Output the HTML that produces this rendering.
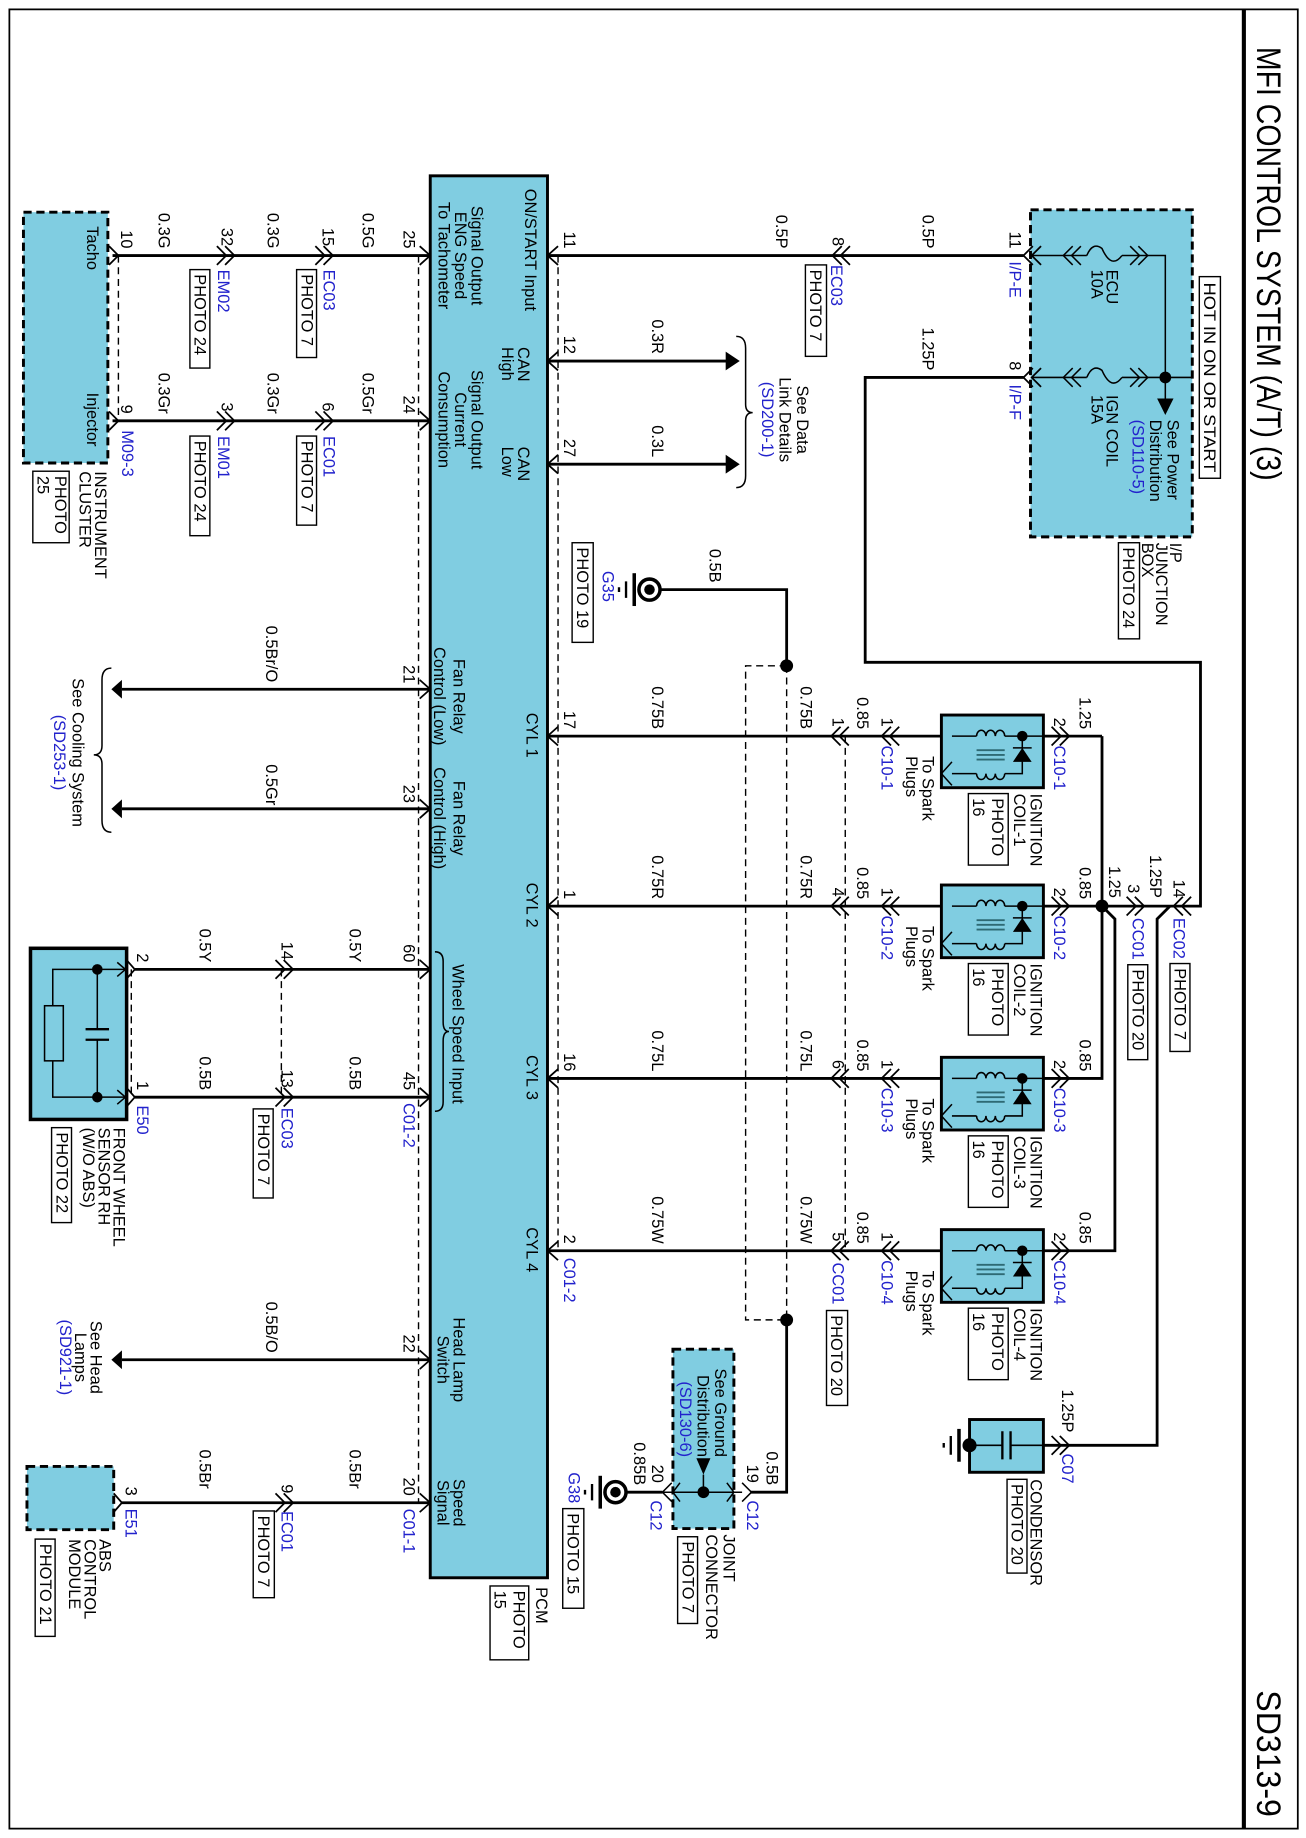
<!DOCTYPE html>
<html><head><meta charset="utf-8"><style>
html,body{margin:0;padding:0;background:#fff;}
svg{display:block;}
text{font-family:"Liberation Sans",Arial,sans-serif;font-size:14px;fill:#000;}
.b{fill:#2222cc;}
.w{stroke:#000;stroke-width:2.4;fill:none;}
.th{stroke:#000;stroke-width:1.3;fill:none;}
.d{stroke:#000;stroke-width:1.2;fill:none;stroke-dasharray:6 4;}
.c{stroke:#000;stroke-width:1.5;fill:none;}
.bx{fill:#80cde1;stroke:#000;}
.pb{fill:#fff;stroke:#000;stroke-width:1.2;}
</style></head><body>
<svg width="1306" height="1838" viewBox="0 0 1114 1568" preserveAspectRatio="none" xmlns="http://www.w3.org/2000/svg">
<rect x="0" y="0" width="1114" height="1568" fill="#fff"/>
<rect x="8" y="8" width="1099" height="1552" fill="none" stroke="#000" stroke-width="1.5"/>
<line x1="1061" y1="8" x2="1061" y2="1560" stroke="#000" stroke-width="3.5"/>
<text transform="translate(1072,40) rotate(90)" style="font-size:29px" textLength="370" lengthAdjust="spacingAndGlyphs">MFI CONTROL SYSTEM (A/T) (3)</text>
<text transform="translate(1072,1442) rotate(90)" style="font-size:29px" textLength="108" lengthAdjust="spacingAndGlyphs">SD313-9</text>

<rect class="bx" x="367" y="150" width="100" height="1196" stroke-width="2.5"/>
<text transform="translate(457,1354) rotate(90)">PCM</text>
<rect class="pb" x="418" y="1353" width="33" height="63"/>
<text transform="translate(438,1357) rotate(90)">PHOTO</text>
<text transform="translate(422,1357) rotate(90)">15</text>

<text transform="translate(448,161) rotate(90)">ON/START Input</text>
<text transform="translate(442,296) rotate(90)">CAN<tspan x="0" dy="14">High</tspan></text>
<text transform="translate(442,381) rotate(90)">CAN<tspan x="0" dy="14">Low</tspan></text>
<text transform="translate(402,218) rotate(90)" text-anchor="middle">Signal Output<tspan x="0" dy="14">ENG Speed</tspan><tspan x="0" dy="14">To Tachometer</tspan></text>
<text transform="translate(402,358) rotate(90)" text-anchor="middle">Signal Output<tspan x="0" dy="14">Current</tspan><tspan x="0" dy="14">Consumption</tspan></text>
<text transform="translate(387,594) rotate(90)" text-anchor="middle">Fan Relay<tspan x="0" dy="17">Control (Low)</tspan></text>
<text transform="translate(387,698) rotate(90)" text-anchor="middle">Fan Relay<tspan x="0" dy="17">Control (High)</tspan></text>
<text transform="translate(386,882) rotate(90)" text-anchor="middle">Wheel Speed Input</text>
<path class="th" d="M371,812 Q378,812 378,820 V872 Q378,880 383,880 Q378,880 378,888 V940 Q378,948 371,948"/>
<text transform="translate(387,1160) rotate(90)" text-anchor="middle">Head Lamp<tspan x="0" dy="14">Switch</tspan></text>
<text transform="translate(387,1282) rotate(90)" text-anchor="middle">Speed<tspan x="0" dy="14">Signal</tspan></text>
<text transform="translate(449,608) rotate(90)">CYL 1</text>
<text transform="translate(449,753) rotate(90)">CYL 2</text>
<text transform="translate(449,900) rotate(90)">CYL 3</text>
<text transform="translate(449,1047) rotate(90)">CYL 4</text>

<path class="c" d="M476,210 L467,218 L476,226 M476,300 L467,308 L476,316 M476,388 L467,396 L476,404 M476,620 L467,628 L476,636 M476,765 L467,773 L476,781 M476,912 L467,920 L476,928 M476,1059 L467,1067 L476,1075"/>
<path class="c" d="M358,210 L367,218 L358,226 M358,351 L367,359 L358,367 M358,580 L367,588 L358,596 M358,682 L367,690 L358,698 M358,819 L367,827 L358,835 M358,928 L367,936 L358,944 M358,1152 L367,1160 L358,1168 M358,1274 L367,1282 L358,1290"/>

<path class="d" d="M476,218 V1067"/>
<path class="d" d="M357,218 V1282"/>
<path class="d" d="M721,628 V1067"/>
<path class="d" d="M671,568 V1126 H636 V568 H671"/>
<path class="d" d="M101,218 V359"/>
<path class="d" d="M112,827 V936"/>
<path class="d" d="M240,827 V936"/>

<rect x="879" y="179" width="138" height="279" fill="#80cde1" stroke="#000" stroke-width="2.5" stroke-dasharray="7 4"/>
<rect class="pb" x="1023" y="236" width="18" height="172"/>
<text transform="translate(1027,241) rotate(90)" textLength="162" lengthAdjust="spacingAndGlyphs">HOT IN ON OR START</text>
<path class="th" d="M880,218 H927 M957,218 H994 V340 M880,322 H927 M957,322 H1017"/>
<path class="th" d="M927,218 Q932,206 940,212 Q948,230 957,218 M927,322 Q932,310 940,316 Q948,334 957,322"/>
<path class="th" d="M915,210 L907,218 L915,226 M922,210 L914,218 L922,226 M964,210 L972,218 L964,226 M971,210 L979,218 L971,226"/>
<path class="th" d="M915,314 L907,322 L915,330 M922,314 L914,322 L922,330 M964,314 L972,322 L964,330 M971,314 L979,322 L971,330"/>
<circle cx="994" cy="322" r="5"/>
<path d="M987,340 L1001,340 L994,354 Z"/>
<text transform="translate(944,230) rotate(90)">ECU<tspan x="0" dy="13">10A</tspan></text>
<text transform="translate(944,337) rotate(90)">IGN COIL<tspan x="0" dy="13">15A</tspan></text>
<text transform="translate(996,358) rotate(90)">See Power<tspan x="0" dy="15">Distribution</tspan><tspan x="0" dy="15" class="b">(SD110-5)</tspan></text>
<text transform="translate(998,463) rotate(90)">I/P<tspan x="0" dy="12">JUNCTION</tspan><tspan x="0" dy="12">BOX</tspan></text>
<rect class="pb" x="954" y="463" width="18" height="82"/>
<text transform="translate(958,467) rotate(90)">PHOTO 24</text>
<text transform="translate(861,212) rotate(90)" text-anchor="end">11</text>
<text transform="translate(861,223) rotate(90)" class="b">I/P-E</text>
<text transform="translate(861,316) rotate(90)" text-anchor="end">8</text>
<text transform="translate(861,328) rotate(90)" class="b">I/P-F</text>
<path class="c" d="M881,210 L873,218 L881,226 M888,210 L880,218 L888,226 M881,314 L873,322 L881,330 M888,314 L880,322 L888,330"/>

<path class="w" d="M467,218 H873"/>
<path class="c" d="M718,210 L710,218 L718,226 M725,210 L717,218 L725,226"/>
<text transform="translate(662,212) rotate(90)" text-anchor="end">0.5P</text>
<text transform="translate(787,212) rotate(90)" text-anchor="end">0.5P</text>
<text transform="translate(481,212) rotate(90)" text-anchor="end">11</text>
<text transform="translate(710,210) rotate(90)" text-anchor="end">8</text>
<text transform="translate(709,226) rotate(90)" class="b">EC03</text>
<rect class="pb" x="687" y="226" width="18" height="78"/>
<text transform="translate(691,230) rotate(90)">PHOTO 7</text>

<path class="w" d="M873,322 H738 V565 H1024 V773 H940"/>
<path class="w" d="M998,773 L987,784 V1233 H890"/>
<path class="w" d="M940,628 V920 H890 M940,628 H890 M940,773 H890 M940,773 L951,784 V1067 H890"/>
<circle cx="940" cy="773" r="5.5"/>
<text transform="translate(787,316) rotate(90)" text-anchor="end">1.25P</text>
<path class="c" d="M1009,765 L1001,773 L1009,781 M1016,765 L1008,773 L1016,781"/>
<text transform="translate(1001,766) rotate(90)" text-anchor="end">14</text>
<text transform="translate(1001,783) rotate(90)" class="b">EC02</text>
<rect class="pb" x="998" y="822" width="17" height="75"/>
<text transform="translate(1002,826) rotate(90)">PHOTO 7</text>
<text transform="translate(981,766) rotate(90)" text-anchor="end">1.25P</text>
<path class="c" d="M961,765 L969,773 L961,781 M968,765 L976,773 L968,781"/>
<text transform="translate(962,762) rotate(90)" text-anchor="end">3</text>
<text transform="translate(946,766) rotate(90)" text-anchor="end">1.25</text>
<text transform="translate(966,783) rotate(90)" class="b">CC01</text>
<rect class="pb" x="962" y="823" width="17" height="81"/>
<text transform="translate(966,827) rotate(90)">PHOTO 20</text>

<g id="coil1">
<rect class="bx" x="803" y="610" width="87" height="62" stroke-width="2.5"/>
<path class="th" d="M890,628 H872 M857,628 H872 M833,628 H812 M872,628 V660 H857 M833,660 H812"/>
<path class="th" d="M833,628 a4,5 0 0 1 8,0 a4,5 0 0 1 8,0 a4,5 0 0 1 8,0 M833,660 a4,5 0 0 0 8,0 a4,5 0 0 0 8,0 a4,5 0 0 0 8,0"/>
<path d="M833,640 H857 M833,644 H857 M833,648 H857" stroke="#2e6a74" stroke-width="1.6"/>
<path class="th" d="M812,650 L803,660 L812,670"/>
<circle cx="872" cy="628" r="4.5"/>
<path d="M864,650 L880,650 L872,638 Z"/><path class="th" d="M864,638 H880"/>
</g>
<use href="#coil1" y="145"/>
<use href="#coil1" y="292"/>
<use href="#coil1" y="439"/>

<path class="w" d="M803,628 H467 M803,773 H467 M803,920 H467 M803,1067 H467"/>
<path class="c" d="M904,620 L912,628 L904,636 M897,620 L905,628 L897,636 M904,765 L912,773 L904,781 M897,765 L905,773 L897,781 M904,912 L912,920 L904,928 M897,912 L905,920 L897,928 M904,1059 L912,1067 L904,1075 M897,1059 L905,1067 L897,1075"/>
<path class="c" d="M760,620 L752,628 L760,636 M767,620 L759,628 L767,636 M760,765 L752,773 L760,781 M767,765 L759,773 L767,781 M760,912 L752,920 L760,928 M767,912 L759,920 L767,928 M760,1059 L752,1067 L760,1075 M767,1059 L759,1067 L767,1075"/>
<path class="c" d="M717,620 L709,628 L717,636 M724,620 L716,628 L724,636 M717,765 L709,773 L717,781 M724,765 L716,773 L724,781 M717,912 L709,920 L717,928 M724,912 L716,920 L724,928 M717,1059 L709,1067 L717,1075 M724,1059 L716,1067 L724,1075"/>

<text transform="translate(921,622) rotate(90)" text-anchor="end">1.25</text>
<text transform="translate(921,767) rotate(90)" text-anchor="end">0.85</text>
<text transform="translate(921,914) rotate(90)" text-anchor="end">0.85</text>
<text transform="translate(921,1061) rotate(90)" text-anchor="end">0.85</text>

<g id="clab">
<text transform="translate(899,620) rotate(90)" text-anchor="end">2</text>
<text transform="translate(752,620) rotate(90)" text-anchor="end">1</text>
<text transform="translate(731,622) rotate(90)" text-anchor="end">0.85</text>
<text transform="translate(787,645) rotate(90)">To Spark<tspan x="0" dy="14">Plugs</tspan></text>
<text transform="translate(879,677) rotate(90)">IGNITION</text>
<rect class="pb" x="826" y="677" width="34" height="61"/>
<text transform="translate(846,681) rotate(90)">PHOTO</text>
<text transform="translate(830,681) rotate(90)">16</text>
</g>
<use href="#clab" y="145"/><use href="#clab" y="292"/><use href="#clab" y="439"/>
<text transform="translate(865,677) rotate(90)">COIL-1</text>
<text transform="translate(865,822) rotate(90)">COIL-2</text>
<text transform="translate(865,969) rotate(90)">COIL-3</text>
<text transform="translate(865,1116) rotate(90)">COIL-4</text>
<text transform="translate(899,636) rotate(90)" class="b">C10-1</text>
<text transform="translate(899,781) rotate(90)" class="b">C10-2</text>
<text transform="translate(899,928) rotate(90)" class="b">C10-3</text>
<text transform="translate(899,1075) rotate(90)" class="b">C10-4</text>
<text transform="translate(752,636) rotate(90)" class="b">C10-1</text>
<text transform="translate(752,781) rotate(90)" class="b">C10-2</text>
<text transform="translate(752,928) rotate(90)" class="b">C10-3</text>
<text transform="translate(752,1075) rotate(90)" class="b">C10-4</text>
<text transform="translate(710,620) rotate(90)" text-anchor="end">1</text>
<text transform="translate(710,765) rotate(90)" text-anchor="end">4</text>
<text transform="translate(710,912) rotate(90)" text-anchor="end">6</text>
<text transform="translate(710,1059) rotate(90)" text-anchor="end">5</text>
<text transform="translate(683,622) rotate(90)" text-anchor="end">0.75B</text>
<text transform="translate(683,767) rotate(90)" text-anchor="end">0.75R</text>
<text transform="translate(683,914) rotate(90)" text-anchor="end">0.75L</text>
<text transform="translate(683,1061) rotate(90)" text-anchor="end">0.75W</text>
<text transform="translate(556,622) rotate(90)" text-anchor="end">0.75B</text>
<text transform="translate(556,767) rotate(90)" text-anchor="end">0.75R</text>
<text transform="translate(556,914) rotate(90)" text-anchor="end">0.75L</text>
<text transform="translate(556,1061) rotate(90)" text-anchor="end">0.75W</text>
<text transform="translate(481,622) rotate(90)" text-anchor="end">17</text>
<text transform="translate(481,767) rotate(90)" text-anchor="end">1</text>
<text transform="translate(481,914) rotate(90)" text-anchor="end">16</text>
<text transform="translate(481,1061) rotate(90)" text-anchor="end">2</text>
<text transform="translate(481,1073) rotate(90)" class="b">C01-2</text>
<text transform="translate(710,1077) rotate(90)" class="b">CC01</text>
<rect class="pb" x="705" y="1118" width="18" height="81"/>
<text transform="translate(709,1122) rotate(90)">PHOTO 20</text>

<rect class="bx" x="827" y="1211" width="63" height="45" stroke-width="2.5"/>
<path class="th" d="M890,1233 H862 M855,1233 H827"/>
<path d="M862,1221 V1245 M855,1221 V1245" stroke="#000" stroke-width="2"/>
<circle cx="827" cy="1233" r="6"/>
<path d="M818,1219 V1247" stroke="#000" stroke-width="3"/>
<path d="M811,1225 V1241 M805,1231 V1235" stroke="#000" stroke-width="2"/>
<path class="c" d="M904,1225 L912,1233 L904,1241 M897,1225 L905,1233 L897,1241"/>
<text transform="translate(906,1222) rotate(90)" text-anchor="end">1.25P</text>
<text transform="translate(906,1240) rotate(90)" class="b">C07</text>
<text transform="translate(879,1262) rotate(90)">CONDENSOR</text>
<rect class="pb" x="859" y="1262" width="17" height="80"/>
<text transform="translate(863,1266) rotate(90)">PHOTO 20</text>

<path class="w" d="M467,308 H620 M467,396 H620"/>
<path d="M619,300 L619,316 L631,308 Z M619,388 L619,404 L631,396 Z"/>
<path class="th" d="M628,287 Q636,287 636,297 V345 Q636,352 642,352 Q636,352 636,359 V406 Q636,416 628,416"/>
<text transform="translate(481,302) rotate(90)" text-anchor="end">12</text>
<text transform="translate(481,390) rotate(90)" text-anchor="end">27</text>
<text transform="translate(556,302) rotate(90)" text-anchor="end">0.3R</text>
<text transform="translate(556,390) rotate(90)" text-anchor="end">0.3L</text>
<text transform="translate(680,358) rotate(90)" text-anchor="middle">See Data<tspan x="0" dy="15">Link Details</tspan><tspan x="0" dy="15" class="b">(SD200-1)</tspan></text>

<path class="w" d="M564,503 H671 V568"/>
<circle cx="671" cy="568" r="5.5"/>
<circle cx="554" cy="503" r="9" fill="#fff" stroke="#000" stroke-width="3"/>
<circle cx="554" cy="503" r="4.5"/>
<path d="M541,489 V517" stroke="#000" stroke-width="3"/>
<path d="M534,496 V510 M528,501 V505" stroke="#000" stroke-width="2"/>
<text transform="translate(605,497) rotate(90)" text-anchor="end">0.5B</text>
<text transform="translate(514,487) rotate(90)" class="b">G35</text>
<rect class="pb" x="488" y="463" width="18" height="85"/>
<text transform="translate(492,467) rotate(90)">PHOTO 19</text>

<path class="w" d="M671,1126 V1273 H640"/>
<circle cx="671" cy="1126" r="5.5"/>
<rect x="574" y="1151" width="52" height="153" fill="#80cde1" stroke="#000" stroke-width="2.5" stroke-dasharray="7 4"/>
<path class="th" d="M633,1273 H566 M633,1265 L641,1273 L633,1281 M573,1265 L565,1273 L573,1281 M620,1265 L626,1273 L620,1281 M580,1265 L574,1273 L580,1281"/>
<circle cx="600" cy="1273" r="5"/>
<path class="th" d="M600,1258 V1273"/>
<path d="M594,1244 L606,1244 L600,1258 Z"/>
<text transform="translate(610,1243) rotate(90)" text-anchor="end">See Ground<tspan x="0" dy="15">Distribution</tspan><tspan x="0" dy="15" class="b">(SD130-6)</tspan></text>
<path class="w" d="M565,1273 H535"/>
<circle cx="525" cy="1273" r="9" fill="#fff" stroke="#000" stroke-width="3"/>
<circle cx="525" cy="1273" r="4.5"/>
<path d="M512,1259 V1287" stroke="#000" stroke-width="3"/>
<path d="M505,1266 V1280 M499,1271 V1275" stroke="#000" stroke-width="2"/>
<text transform="translate(654,1267) rotate(90)" text-anchor="end">0.5B</text>
<text transform="translate(637,1265) rotate(90)" text-anchor="end">19</text>
<text transform="translate(637,1280) rotate(90)" class="b">C12</text>
<text transform="translate(541,1267) rotate(90)" text-anchor="end">0.85B</text>
<text transform="translate(556,1265) rotate(90)" text-anchor="end">20</text>
<text transform="translate(555,1280) rotate(90)" class="b">C12</text>
<text transform="translate(485,1256) rotate(90)" class="b">G38</text>
<rect class="pb" x="480" y="1287" width="18" height="85"/>
<text transform="translate(484,1291) rotate(90)">PHOTO 15</text>
<text transform="translate(617,1309) rotate(90)">JOINT<tspan x="0" dy="15">CONNECTOR</tspan></text>
<rect class="pb" x="578" y="1311" width="17" height="74"/>
<text transform="translate(582,1315) rotate(90)">PHOTO 7</text>

<rect x="20" y="181" width="72" height="214" fill="#80cde1" stroke="#000" stroke-width="2.5" stroke-dasharray="7 4"/>
<text transform="translate(74,193) rotate(90)">Tacho</text>
<text transform="translate(74,335) rotate(90)">Injector</text>
<text transform="translate(81,402) rotate(90)">INSTRUMENT<tspan x="0" dy="13">CLUSTER</tspan></text>
<rect class="pb" x="28" y="402" width="31" height="61"/>
<text transform="translate(47,406) rotate(90)">PHOTO</text>
<text transform="translate(32,406) rotate(90)">25</text>

<path class="w" d="M367,218 H96 M367,359 H96"/>
<path class="c" d="M93,210 L101,218 L93,226 M93,351 L101,359 L93,367"/>
<path class="c" d="M192,210 L200,218 L192,226 M185,210 L193,218 L185,226 M276,210 L284,218 L276,226 M269,210 L277,218 L269,226"/>
<path class="c" d="M192,351 L200,359 L192,367 M185,351 L193,359 L185,367 M276,351 L284,359 L276,367 M269,351 L277,359 L269,367"/>
<text transform="translate(344,212) rotate(90)" text-anchor="end">25</text>
<text transform="translate(309,212) rotate(90)" text-anchor="end">0.5G</text>
<text transform="translate(275,210) rotate(90)" text-anchor="end">15</text>
<text transform="translate(276,230) rotate(90)" class="b">EC03</text>
<rect class="pb" x="253" y="230" width="17" height="75"/>
<text transform="translate(257,234) rotate(90)">PHOTO 7</text>
<text transform="translate(228,212) rotate(90)" text-anchor="end">0.3G</text>
<text transform="translate(189,210) rotate(90)" text-anchor="end">32</text>
<text transform="translate(186,230) rotate(90)" class="b">EM02</text>
<rect class="pb" x="162" y="230" width="17" height="84"/>
<text transform="translate(166,234) rotate(90)">PHOTO 24</text>
<text transform="translate(135,212) rotate(90)" text-anchor="end">0.3G</text>
<text transform="translate(103,212) rotate(90)" text-anchor="end">10</text>

<text transform="translate(344,353) rotate(90)" text-anchor="end">24</text>
<text transform="translate(309,353) rotate(90)" text-anchor="end">0.5Gr</text>
<text transform="translate(275,351) rotate(90)" text-anchor="end">6</text>
<text transform="translate(276,372) rotate(90)" class="b">EC01</text>
<rect class="pb" x="253" y="372" width="17" height="76"/>
<text transform="translate(257,376) rotate(90)">PHOTO 7</text>
<text transform="translate(228,353) rotate(90)" text-anchor="end">0.3Gr</text>
<text transform="translate(189,351) rotate(90)" text-anchor="end">3</text>
<text transform="translate(186,372) rotate(90)" class="b">EM01</text>
<rect class="pb" x="162" y="372" width="17" height="85"/>
<text transform="translate(166,376) rotate(90)">PHOTO 24</text>
<text transform="translate(135,353) rotate(90)" text-anchor="end">0.3Gr</text>
<text transform="translate(103,353) rotate(90)" text-anchor="end">9</text>
<text transform="translate(104,367) rotate(90)" class="b">M09-3</text>

<path class="w" d="M367,588 H104 M367,690 H104"/>
<path d="M104,580 L104,596 L95,588 Z M104,682 L104,698 L95,690 Z"/>
<path class="th" d="M95,570 Q87,570 87,580 V636 Q87,644 80,644 Q87,644 87,652 V700 Q87,710 95,710"/>
<text transform="translate(62,642) rotate(90)" text-anchor="middle">See Cooling System<tspan x="0" dy="16" class="b">(SD253-1)</tspan></text>
<text transform="translate(227,582) rotate(90)" text-anchor="end">0.5Br/O</text>
<text transform="translate(227,687) rotate(90)" text-anchor="end">0.5Gr</text>
<text transform="translate(344,583) rotate(90)" text-anchor="end">21</text>
<text transform="translate(344,685) rotate(90)" text-anchor="end">23</text>

<rect class="bx" x="26" y="809" width="82" height="146" stroke-width="3"/>
<path class="th" d="M83,827 H108 M83,936 H108 M83,827 V878 M83,887 V936 M83,827 H45 V858 M45,905 V936 H83"/>
<path d="M73,878 H93 M73,887 H93" stroke="#000" stroke-width="2"/>
<rect x="38" y="858" width="16" height="47" fill="none" stroke="#000" stroke-width="1.3"/>
<circle cx="83" cy="827" r="4.5"/><circle cx="83" cy="936" r="4.5"/>
<path class="th" d="M100,821 L107,827 L100,833 M100,930 L107,936 L100,942"/>
<path class="w" d="M367,827 H115 M367,936 H115"/>
<path class="c" d="M108,819 L115,827 L108,835 M108,928 L115,936 L108,944"/>
<path class="c" d="M235,819 L243,827 L235,835 M242,819 L250,827 L242,835 M235,928 L243,936 L235,944 M242,928 L250,936 L242,944"/>
<text transform="translate(344,821) rotate(90)" text-anchor="end">60</text>
<text transform="translate(344,930) rotate(90)" text-anchor="end">45</text>
<text transform="translate(344,941) rotate(90)" class="b">C01-2</text>
<text transform="translate(298,821) rotate(90)" text-anchor="end">0.5Y</text>
<text transform="translate(298,930) rotate(90)" text-anchor="end">0.5B</text>
<text transform="translate(240,819) rotate(90)" text-anchor="end">14</text>
<text transform="translate(240,928) rotate(90)" text-anchor="end">13</text>
<text transform="translate(240,945) rotate(90)" class="b">EC03</text>
<rect class="pb" x="216" y="946" width="17" height="76"/>
<text transform="translate(220,950) rotate(90)">PHOTO 7</text>
<text transform="translate(170,821) rotate(90)" text-anchor="end">0.5Y</text>
<text transform="translate(170,930) rotate(90)" text-anchor="end">0.5B</text>
<text transform="translate(117,821) rotate(90)" text-anchor="end">2</text>
<text transform="translate(117,930) rotate(90)" text-anchor="end">1</text>
<text transform="translate(117,943) rotate(90)" class="b">E50</text>
<text transform="translate(97,962) rotate(90)">FRONT WHEEL<tspan x="0" dy="13">SENSOR RH</tspan><tspan x="0" dy="13">(W/O ABS)</tspan></text>
<rect class="pb" x="44" y="962" width="17" height="81"/>
<text transform="translate(48,966) rotate(90)">PHOTO 22</text>

<path class="w" d="M367,1160 H104"/>
<path d="M104,1152 L104,1168 L95,1160 Z"/>
<text transform="translate(227,1154) rotate(90)" text-anchor="end">0.5B/O</text>
<text transform="translate(344,1154) rotate(90)" text-anchor="end">22</text>
<text transform="translate(77,1158) rotate(90)" text-anchor="middle">See Head<tspan x="0" dy="13">Lamps</tspan><tspan x="0" dy="13" class="b">(SD921-1)</tspan></text>

<rect x="23" y="1251" width="74" height="54" fill="#80cde1" stroke="#000" stroke-width="2.5" stroke-dasharray="7 4"/>
<path class="w" d="M367,1282 H104"/>
<path class="c" d="M97,1274 L104,1282 L97,1290"/>
<path class="c" d="M235,1274 L243,1282 L235,1290 M242,1274 L250,1282 L242,1290"/>
<text transform="translate(344,1276) rotate(90)" text-anchor="end">20</text>
<text transform="translate(344,1287) rotate(90)" class="b">C01-1</text>
<text transform="translate(298,1270) rotate(90)" text-anchor="end">0.5Br</text>
<text transform="translate(240,1274) rotate(90)" text-anchor="end">9</text>
<text transform="translate(240,1289) rotate(90)" class="b">EC01</text>
<rect class="pb" x="216" y="1289" width="18" height="74"/>
<text transform="translate(220,1293) rotate(90)">PHOTO 7</text>
<text transform="translate(170,1270) rotate(90)" text-anchor="end">0.5Br</text>
<text transform="translate(107,1276) rotate(90)" text-anchor="end">3</text>
<text transform="translate(107,1287) rotate(90)" class="b">E51</text>
<text transform="translate(85,1313) rotate(90)">ABS<tspan x="0" dy="13">CONTROL</tspan><tspan x="0" dy="13">MODULE</tspan></text>
<rect class="pb" x="30" y="1313" width="17" height="83"/>
<text transform="translate(34,1317) rotate(90)">PHOTO 21</text>
</svg>
</body></html>
